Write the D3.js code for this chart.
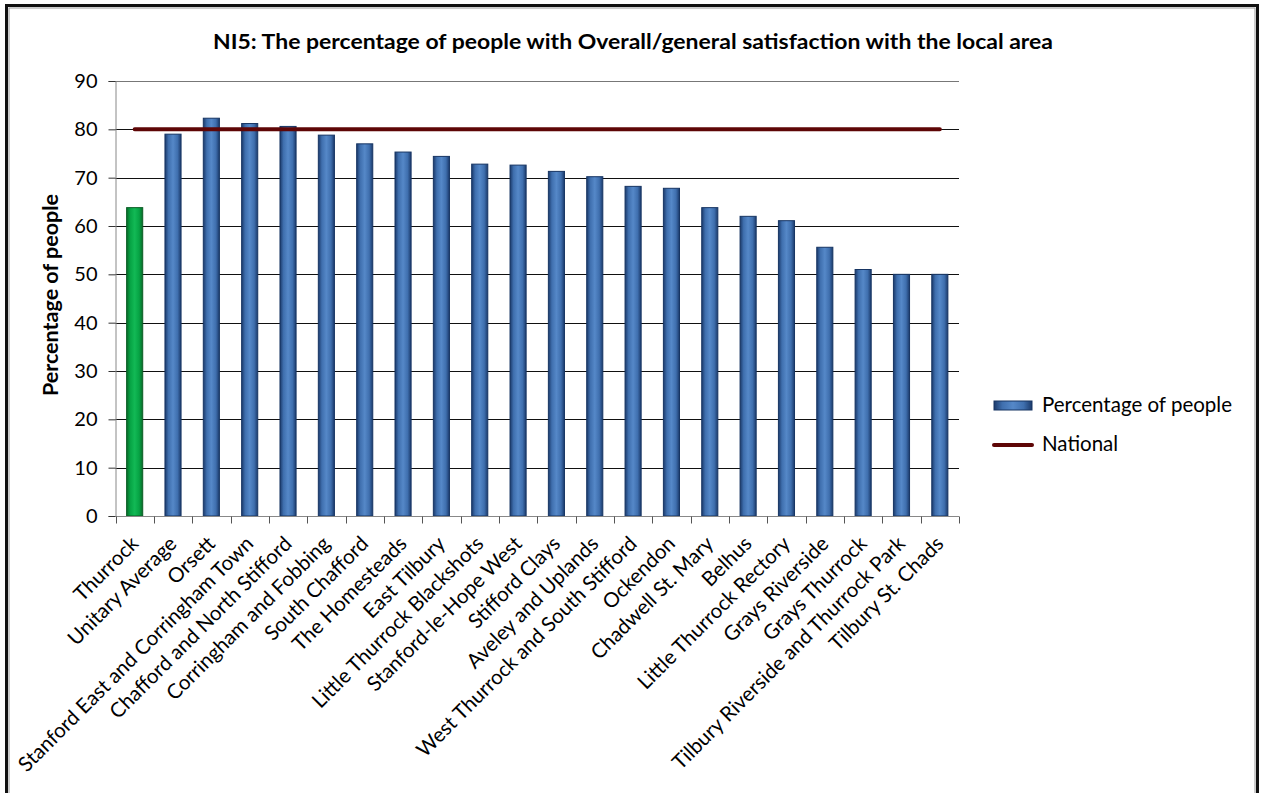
<!DOCTYPE html>
<html>
<head>
<meta charset="utf-8">
<script src="https://cdn.jsdelivr.net/npm/d3@7/dist/d3.min.js"></script>
<style>
  html, body { margin: 0; padding: 0; background: #fff; }
  svg { display: block; }
  text { font-family: Lato, "Open Sans", sans-serif; fill: #000; }
</style>
</head>
<body>
<svg id="chart" width="1261" height="793"></svg>
<script>
// Ward names, in chart order
const categories = [
  "Thurrock", "Unitary Average", "Orsett", "Stanford East and Corringham Town",
  "Chafford and North Stifford", "Corringham and Fobbing", "South Chafford",
  "The Homesteads", "East Tilbury", "Little Thurrock Blackshots",
  "Stanford-le-Hope West", "Stifford Clays", "Aveley and Uplands",
  "West Thurrock and South Stifford", "Ockendon", "Chadwell St. Mary", "Belhus",
  "Little Thurrock Rectory", "Grays Riverside", "Grays Thurrock",
  "Tilbury Riverside and Thurrock Park", "Tilbury St. Chads"
];
// Percentage of people satisfied with the local area
const percentValues = [
  63.8, 79.0, 82.3, 81.2, 80.6, 78.8, 77.0, 75.3, 74.4, 72.8,
  72.6, 71.3, 70.2, 68.2, 67.8, 63.8, 62.0, 61.1, 55.6, 51.0, 50.0, 50.0
];
// National benchmark, repeated for every category
const nationalValues = categories.map(() => 80);
const yTicks = [0, 10, 20, 30, 40, 50, 60, 70, 80, 90];
const titleText = "NI5: The percentage of people with Overall/general satisfaction with the local area";
const yAxisTitle = "Percentage of people";
const legendLabels = ["Percentage of people", "National"];

const svg = d3.select("#chart");

// Frame
svg.append("rect").attr("x", 6.5).attr("y", 5.5).attr("width", 1251).attr("height", 795)
  .attr("fill", "#fff").attr("stroke", "#111").attr("stroke-width", 3);
svg.append("rect").attr("x", 9).attr("y", 8).attr("width", 1246).attr("height", 790)
  .attr("fill", "none").attr("stroke", "#999").attr("stroke-width", 1);

const defs = svg.append("defs");
const blue = defs.append("linearGradient").attr("id", "gBlue").attr("x1", 0).attr("x2", 1).attr("y1", 0).attr("y2", 0);
[[0, "#1b3a6b"], [0.22, "#3f6fae"], [0.5, "#5588c8"], [0.78, "#3f6fae"], [1, "#1b3a6b"]]
  .forEach(([o, c]) => blue.append("stop").attr("offset", o).attr("stop-color", c));
const green = defs.append("linearGradient").attr("id", "gGreen").attr("x1", 0).attr("x2", 1).attr("y1", 0).attr("y2", 0);
[[0, "#0a6a2a"], [0.22, "#06a344"], [0.5, "#12b955"], [0.78, "#06a344"], [1, "#0a6a2a"]]
  .forEach(([o, c]) => green.append("stop").attr("offset", o).attr("stop-color", c));

const plot = { left: 115.5, right: 959, top: 81, bottom: 516 };

const x = d3.scaleBand().domain(categories).range([plot.left, plot.right]).paddingInner(0.58).paddingOuter(0.29);
const y = d3.scaleLinear().domain([0, 90]).range([plot.bottom, plot.top]);

// Title
svg.append("text").attr("x", 633).attr("y", 49).attr("text-anchor", "middle")
  .attr("font-size", 20).attr("font-weight", "bold")
  .attr("textLength", 840).attr("lengthAdjust", "spacingAndGlyphs")
  .text(titleText);

// Horizontal gridlines
const grid = svg.append("g");
grid.selectAll("line").data(yTicks.filter(t => t > 0)).join("line")
  .attr("x1", plot.left).attr("x2", plot.right)
  .attr("y1", d => Math.round(y(d)) + 0.5).attr("y2", d => Math.round(y(d)) + 0.5)
  .attr("stroke", d => d === 90 ? "#777" : "#111").attr("stroke-width", 1);

// Y axis
const yAxis = svg.append("g").attr("transform", `translate(${plot.left},0)`)
  .call(d3.axisLeft(y).tickValues(yTicks).tickSize(7).tickPadding(11));
yAxis.select(".domain").attr("stroke", "#888");
yAxis.selectAll(".tick line").attr("stroke", "#333");
yAxis.selectAll(".tick text").attr("font-size", 20).attr("font-family", "Lato, sans-serif").attr("fill", "#000");

// Y axis title
svg.append("text").attr("transform", "translate(58,295) rotate(-90)")
  .attr("text-anchor", "middle").attr("font-size", 21.5).attr("font-weight", "bold")
  .text(yAxisTitle);

// Bars
svg.append("g").selectAll("rect").data(categories).join("rect")
  .attr("x", d => x(d))
  .attr("y", (d, i) => y(percentValues[i]))
  .attr("width", x.bandwidth())
  .attr("height", (d, i) => plot.bottom - y(percentValues[i]))
  .attr("fill", (d, i) => i === 0 ? "url(#gGreen)" : "url(#gBlue)")
  .attr("stroke", (d, i) => i === 0 ? "#0b5e25" : "#173563")
  .attr("stroke-width", 1);

// X axis with ticks at band boundaries
const xAxisG = svg.append("g").attr("transform", `translate(0,${plot.bottom + 0.5})`);
xAxisG.append("line").attr("x1", plot.left).attr("x2", plot.right).attr("stroke", "#888");
const bounds = d3.range(categories.length + 1).map(i => plot.left + i * (plot.right - plot.left) / categories.length);
xAxisG.selectAll("line.tk").data(bounds).join("line").attr("class", "tk")
  .attr("x1", d => Math.round(d) + 0.5).attr("x2", d => Math.round(d) + 0.5)
  .attr("y1", 0).attr("y2", 7).attr("stroke", "#555");

// Category labels, rotated
svg.append("g").selectAll("text").data(categories).join("text")
  .attr("transform", d => `translate(${x(d) + x.bandwidth() / 2 + 5},${plot.bottom + 29}) rotate(-45)`)
  .attr("text-anchor", "end").attr("font-size", 20.5)
  .text(d => d);

// National benchmark line
const line = d3.line().x(d => x(d.c) + x.bandwidth() / 2).y(d => y(d.v));
svg.append("path")
  .datum(categories.map((c, i) => ({ c, v: nationalValues[i] })))
  .attr("d", line).attr("fill", "none")
  .attr("stroke", "#5e0606").attr("stroke-width", 4).attr("stroke-linecap", "round");

// Legend
const lg = svg.append("g");
lg.append("rect").attr("x", 994).attr("y", 401).attr("width", 38).attr("height", 9)
  .attr("fill", "url(#gBlue)").attr("stroke", "#173563");
lg.append("text").attr("x", 1042).attr("y", 412).attr("font-size", 20.5).text(legendLabels[0]);
lg.append("line").attr("x1", 994).attr("x2", 1032).attr("y1", 445).attr("y2", 445)
  .attr("stroke", "#5e0606").attr("stroke-width", 4).attr("stroke-linecap", "round");
lg.append("text").attr("x", 1042).attr("y", 451).attr("font-size", 20.5).text(legendLabels[1]);
</script>
</body>
</html>
